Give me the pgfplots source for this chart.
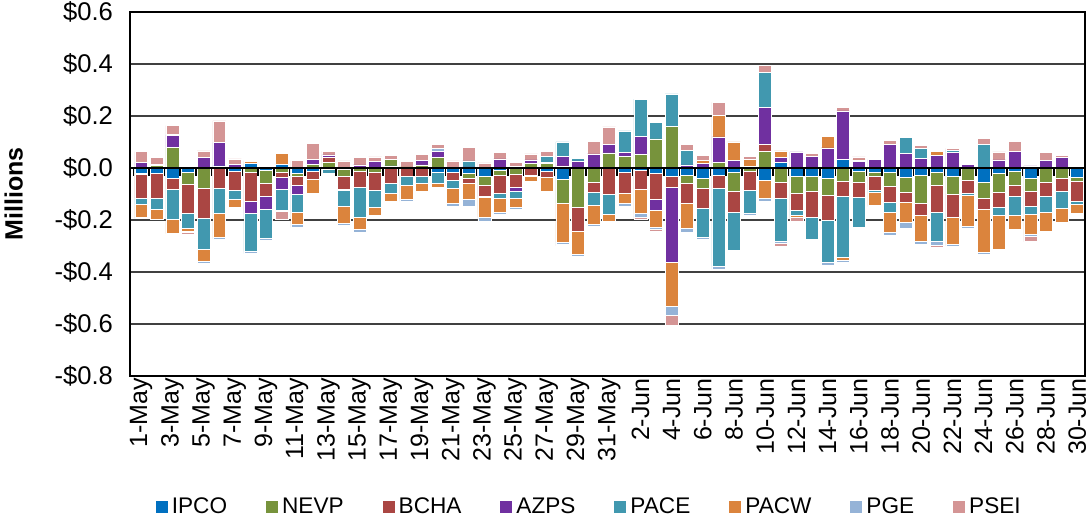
\documentclass[border=0pt]{standalone}
\usepackage{pgfplots}
\pgfplotsset{compat=1.18}
\usepackage{pgfplotstable}
\usepackage{fontspec}
\setmainfont{Liberation Sans}

\definecolor{cIPCO}{HTML}{0070C0}
\definecolor{cNEVP}{HTML}{77933C}
\definecolor{cBCHA}{HTML}{AA4643}
\definecolor{cAZPS}{HTML}{7030A0}
\definecolor{cPACE}{HTML}{4198AF}
\definecolor{cPACW}{HTML}{DB843D}
\definecolor{cPGE}{HTML}{95B3D7}
\definecolor{cPSEI}{HTML}{D49595}

\newcommand\fs{\fontsize{12.5}{15}\selectfont}
\newcommand\fy{\fontsize{12.8}{15}\selectfont}
\newcommand\fl{\fontsize{11.3}{14}\selectfont}

% daily values, $ millions (1-May .. 30-Jun)
\pgfplotstableread{
idx IPCO NEVP BCHA AZPS PACE PACW PGE PSEI
0 -0.019 -0.006 -0.090 0.022 -0.023 -0.051 -0.006 0.041
1 -0.019 0.010 -0.099 0.004 -0.040 -0.038 0 0.028
2 -0.038 0.079 -0.042 0.047 -0.119 -0.053 0.004 0.033
3 -0.015 -0.046 -0.114 0.003 -0.058 -0.010 -0.003 -0.008
4 0 -0.077 -0.115 0.042 -0.119 -0.049 -0.006 0.024
5 0.008 0 -0.077 0.090 -0.096 -0.095 -0.005 0.083
6 -0.013 0 -0.073 0.015 -0.036 -0.028 -0.003 0.020
7 0.017 -0.017 -0.111 -0.047 -0.145 0.008 -0.009 0.003
8 -0.010 -0.047 -0.051 -0.049 -0.112 0 -0.008 0.006
9 0.015 -0.017 -0.019 -0.045 -0.082 0.042 -0.004 -0.032
10 -0.019 -0.013 -0.033 -0.035 -0.071 -0.044 -0.013 0.028
11 -0.013 0.015 -0.030 0.019 0 -0.056 0 0.060
12 -0.006 0.022 0.019 0.009 -0.013 -0.006 0 0.015
13 -0.005 -0.026 -0.051 -0.005 -0.060 -0.064 -0.008 0.027
14 0 -0.013 -0.060 0.012 -0.115 -0.046 -0.012 0.028
15 0 -0.017 -0.067 0.024 -0.067 -0.029 -0.006 0.019
16 0.008 0.026 -0.058 0 -0.041 -0.029 -0.004 0.015
17 0 0.004 -0.032 0 -0.036 -0.051 -0.009 0.020
18 0 0.012 -0.032 0.017 -0.026 -0.030 0 0.022
19 -0.015 0.041 0 0.022 -0.042 -0.019 0.012 0.017
20 -0.017 0 -0.032 0 -0.028 -0.058 -0.013 0.027
21 -0.022 -0.019 -0.017 0.004 0.023 -0.062 -0.026 0.053
22 -0.033 -0.035 -0.041 -0.004 0 -0.077 -0.014 0.020
23 -0.010 -0.019 -0.067 0.035 -0.022 -0.051 -0.010 0.026
24 0.006 -0.023 -0.053 -0.012 -0.028 -0.035 -0.006 0.015
25 0 0.019 -0.029 0.012 -0.004 -0.019 0 0.023
26 -0.013 0.019 -0.023 0.004 0.021 -0.054 0 0.021
27 -0.045 -0.092 0.008 0.037 0.055 -0.147 -0.010 -0.005
28 0 -0.151 -0.091 0.027 0.009 -0.091 -0.005 0
29 0 -0.053 -0.042 0.054 -0.047 -0.073 -0.009 0.047
30 0 0.058 -0.100 0.033 -0.077 -0.029 0 0.067
31 -0.015 0.046 -0.083 0.015 0.082 -0.038 -0.010 0
32 -0.010 0.053 -0.070 0.068 0.144 -0.096 -0.015 -0.006
33 -0.022 0.112 -0.097 -0.045 0.064 -0.063 -0.008 -0.008
34 -0.031 0.159 -0.045 -0.285 0.126 -0.172 -0.035 -0.037
35 -0.028 -0.031 -0.078 0.012 0.055 -0.095 -0.014 0.024
36 -0.040 -0.037 -0.076 0.018 -0.115 0.010 -0.005 0.021
37 -0.027 0.021 -0.051 0.099 -0.299 0.082 -0.012 0.050
38 -0.015 -0.073 -0.083 0.029 -0.144 0.071 0 0
39 0 -0.012 -0.072 0.005 -0.092 0.029 -0.005 0.012
40 -0.047 0.063 0.028 0.141 0.135 -0.071 -0.010 0.028
41 0.021 -0.056 -0.060 0.019 -0.167 0.026 -0.008 -0.010
42 -0.031 -0.068 -0.062 0.062 -0.022 -0.006 0 -0.015
43 -0.033 -0.058 -0.100 0.046 -0.083 0 0 0.009
44 -0.041 -0.064 -0.095 0.077 -0.164 0.045 -0.009 0
45 0.033 -0.050 -0.058 0.187 -0.237 -0.010 -0.009 0.012
46 -0.013 -0.041 -0.060 0.026 -0.113 0.005 0 0.012
47 -0.018 -0.012 -0.055 0.032 -0.008 -0.051 -0.005 0
48 -0.018 -0.051 -0.064 0.090 -0.036 -0.077 -0.013 0.015
49 -0.036 -0.059 -0.035 0.055 0.064 -0.078 -0.024 -0.004
50 -0.028 -0.108 -0.046 0.036 0.040 -0.101 -0.010 0.012
51 -0.015 -0.051 -0.106 0.049 -0.109 0.015 -0.017 -0.005
52 -0.033 -0.068 -0.090 0.059 0.010 -0.104 -0.005 0.006
53 0 -0.046 -0.053 0.015 -0.005 -0.122 -0.005 0
54 -0.055 -0.062 -0.041 0 0.091 -0.167 -0.005 0.024
55 -0.019 -0.076 -0.056 0.031 -0.031 -0.131 0 0.031
56 -0.013 -0.053 -0.044 0.065 -0.071 -0.056 -0.004 0.036
57 -0.038 -0.050 -0.059 0.008 -0.031 -0.077 -0.006 -0.022
58 0 -0.056 -0.054 0.028 -0.059 -0.074 0 0.031
59 0 -0.041 -0.050 0.041 -0.065 -0.051 0 0.008
60 -0.037 -0.013 -0.078 0.003 -0.013 -0.033 0 0.004
}\data

\pgfplotsset{
  common/.style={
    at={(0,0)}, anchor=south west, scale only axis,
    width=477.5pt, height=182pt,
    xmin=-0.72, xmax=60.5, ymin=-0.8, ymax=0.6,
    ybar stacked, bar width=0.83,
    every axis plot/.append style={draw=white, line width=0.25pt},
  },
}

\begin{document}
\begin{tikzpicture}
% positive parts stack up from zero (with frame, grid, labels, legend)
\begin{axis}[common,
    ytick={-0.8,-0.6,-0.4,-0.2,0,0.2,0.4,0.6},
    yticklabels={-\$0.8,-\$0.6,-\$0.4,-\$0.2,\$0.0,\$0.2,\$0.4,\$0.6},
    xtick={0,2,...,60},
    xticklabels={1-May,3-May,5-May,7-May,9-May,11-May,13-May,15-May,17-May,19-May,21-May,23-May,25-May,27-May,29-May,31-May,2-Jun,4-Jun,6-Jun,8-Jun,10-Jun,12-Jun,14-Jun,16-Jun,18-Jun,20-Jun,22-Jun,24-Jun,26-Jun,28-Jun,30-Jun},
    xticklabel style={rotate=90, anchor=east, font=\fs, inner sep=1pt},
    yticklabel style={font=\fy, xshift=-5pt},
    major tick length=0pt,
    ymajorgrids, grid style={black!75, line width=0.6pt},
    axis line style={black, line width=0.9pt},
    ylabel={Millions}, ylabel style={font=\bfseries\fs}, ylabel shift=9pt,
    legend columns=8,
    legend style={at={(0.482,-0.36)}, anchor=center, draw=none, font=\fl,
        /tikz/every even column/.append style={column sep=17.5pt},
        /tikz/every odd column/.append style={column sep=0pt}},
    legend image code/.code={\path[#1, draw=none] (0pt,-2.8pt) rectangle (6pt,3.2pt);},
]
\addplot[fill=cIPCO] table[x=idx, y expr={max(\thisrow{IPCO},0)}] {\data};
\addplot[fill=cNEVP] table[x=idx, y expr={max(\thisrow{NEVP},0)}] {\data};
\addplot[fill=cBCHA] table[x=idx, y expr={max(\thisrow{BCHA},0)}] {\data};
\addplot[fill=cAZPS] table[x=idx, y expr={max(\thisrow{AZPS},0)}] {\data};
\addplot[fill=cPACE] table[x=idx, y expr={max(\thisrow{PACE},0)}] {\data};
\addplot[fill=cPACW] table[x=idx, y expr={max(\thisrow{PACW},0)}] {\data};
\addplot[fill=cPGE]  table[x=idx, y expr={max(\thisrow{PGE},0)}] {\data};
\addplot[fill=cPSEI] table[x=idx, y expr={max(\thisrow{PSEI},0)}] {\data};
\legend{IPCO,NEVP,BCHA,AZPS,PACE,PACW,PGE,PSEI}
\end{axis}

% negative parts stack down from zero, zero line with category ticks on top
\begin{axis}[common,
    axis y line=none, axis x line=middle,
    x axis line style={-, black, line width=0.9pt},
    xtick={-0.5,0.5,...,59.5}, xticklabels={}, ytick=\empty,
    tick align=outside, major tick length=4pt,
    xtick style={black, line width=0.8pt},
    axis on top,
]
\addplot[fill=cIPCO] table[x=idx, y expr={min(\thisrow{IPCO},0)}] {\data};
\addplot[fill=cNEVP] table[x=idx, y expr={min(\thisrow{NEVP},0)}] {\data};
\addplot[fill=cBCHA] table[x=idx, y expr={min(\thisrow{BCHA},0)}] {\data};
\addplot[fill=cAZPS] table[x=idx, y expr={min(\thisrow{AZPS},0)}] {\data};
\addplot[fill=cPACE] table[x=idx, y expr={min(\thisrow{PACE},0)}] {\data};
\addplot[fill=cPACW] table[x=idx, y expr={min(\thisrow{PACW},0)}] {\data};
\addplot[fill=cPGE]  table[x=idx, y expr={min(\thisrow{PGE},0)}] {\data};
\addplot[fill=cPSEI] table[x=idx, y expr={min(\thisrow{PSEI},0)}] {\data};
\end{axis}

\pgfresetboundingbox
\path[use as bounding box] (-65pt,-73.5pt) rectangle (479.5pt,188pt);
\end{tikzpicture}
\end{document}
